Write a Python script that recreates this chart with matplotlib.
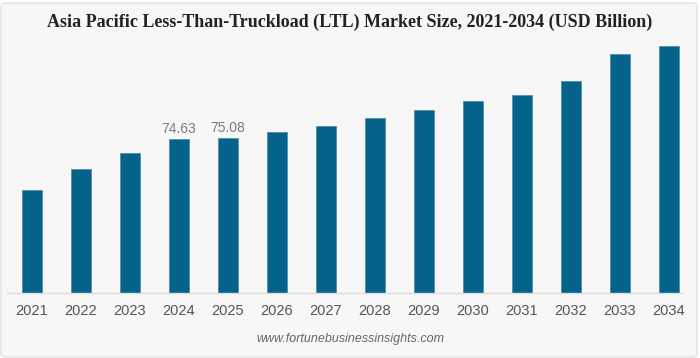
import matplotlib
matplotlib.use("Agg")
import matplotlib.pyplot as plt
from matplotlib.patches import FancyBboxPatch

years = ["2021", "2022", "2023", "2024", "2025", "2026", "2027",
         "2028", "2029", "2030", "2031", "2032", "2033", "2034"]
values = [49.9, 59.9, 67.9, 74.63, 75.08, 77.9, 81.1,
          84.9, 88.9, 92.9, 95.8, 102.8, 115.9, 119.9]
labeled = {"2024": "74.63", "2025": "75.08"}

W, H = 700, 358
fig = plt.figure(figsize=(W / 100, H / 100), dpi=100)
fig.patch.set_facecolor("white")
card = FancyBboxPatch((1 / W, 1 / H), (W - 4) / W, (H - 4) / H,
                      boxstyle="round,pad=0,rounding_size=0.008",
                      transform=fig.transFigure, facecolor="#f7f7f7",
                      edgecolor="#e6e6e6", linewidth=1.2, zorder=-5)
fig.patches.append(card)

ax_l, ax_r, ax_b, ax_t = 7, 683, 293, 40
ax = fig.add_axes([ax_l / W, (H - ax_b) / H, (ax_r - ax_l) / W, (ax_b - ax_t) / H])
ax.set_facecolor("none")
ax.set_zorder(1)

x = list(range(len(years)))
ax.bar(x, values, width=0.4, color="#05628A", edgecolor="#4f8fad", linewidth=0.6, zorder=2)
ax.set_xlim(-0.51, 13.29)
ax.set_ylim(0, 122.7)

for i, (yr, v) in enumerate(zip(years, values)):
    if yr in labeled:
        ax.text(i, v + 1.5, labeled[yr], ha="center", va="bottom",
                fontsize=10, color="#7a7a7a", family="Liberation Sans")

for s in ["top", "right", "left"]:
    ax.spines[s].set_visible(False)
ax.spines["bottom"].set_color("#dcdcdc")
ax.spines["bottom"].set_linewidth(1)
ax.set_yticks([])
ax.set_xticks(x)
ax.set_xticklabels(years, fontsize=10.5, color="#555555", family="Liberation Sans")
ax.tick_params(axis="x", length=0, pad=8)

fig.text(0.5, 1 - 22 / H, "Asia Pacific Less-Than-Truckload (LTL) Market Size, 2021-2034 (USD Billion)",
         ha="center", va="center", fontsize=13, fontweight="bold",
         family="Liberation Serif", color="#222222")
fig.text(0.5, 1 - 339 / H, "www.fortunebusinessinsights.com", ha="center", va="center",
         fontsize=9, style="italic", color="#666666", family="Liberation Sans")

fig.savefig("out.png", dpi=100, facecolor=fig.get_facecolor())
